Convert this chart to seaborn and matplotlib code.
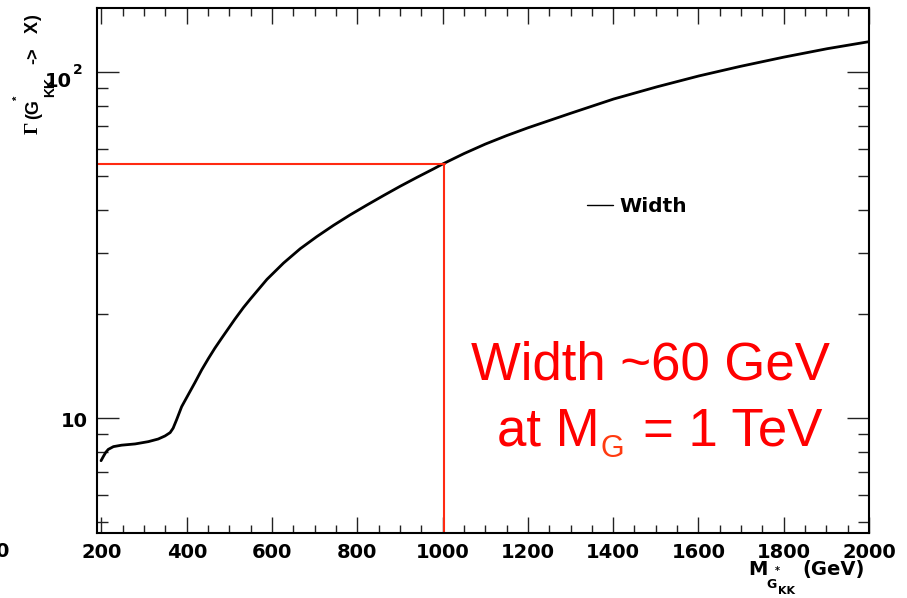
import numpy as np
import pandas as pd
import matplotlib
matplotlib.use("Agg")
import matplotlib.pyplot as plt
from matplotlib.ticker import FixedLocator, LogLocator, NullFormatter, MultipleLocator
import seaborn as sns

# KK graviton mass (GeV) and total decay width (GeV)
mass = [199, 204, 210, 216, 228, 247, 279, 310, 333, 349, 361, 368, 376,
        388, 404, 419, 435, 451, 466, 482, 498, 513, 533, 549, 588, 627, 666,
        705, 744, 783, 822, 861, 900, 940, 979, 1000, 1050, 1100, 1150, 1200,
        1300, 1401, 1503, 1601, 1698, 1800, 1902, 2000]
width = [7.54, 7.74, 7.97, 8.13, 8.28, 8.36, 8.43, 8.56, 8.71, 8.89, 9.09,
         9.36, 9.89, 10.80, 11.73, 12.67, 13.8, 14.9, 15.95, 17.05, 18.2,
         19.35, 20.9, 22.1, 25.2, 28.1, 30.9, 33.5, 36.1, 38.7, 41.3, 44.0,
         46.8, 49.7, 52.6, 54.3, 58.2, 62.0, 65.6, 69.1, 76.1, 83.7, 90.8,
         97.6, 104.0, 110.6, 117.0, 122.6]

x_ticks = [200, 400, 600, 800, 1000, 1200, 1400, 1600, 1800, 2000]
y_ticks = [10, 100]
marker_mass = 1000

df = pd.DataFrame({"mass": mass, "width": width})
marker_width = float(df.loc[df["mass"] == marker_mass, "width"].iloc[0])

W, H = 907, 598
sns.set_theme(style="ticks")
plt.rcParams["font.family"] = ["DejaVu Sans"]
plt.rcParams["font.weight"] = "bold"
for key in ("text.color", "axes.labelcolor", "xtick.color", "ytick.color",
            "axes.edgecolor"):
    plt.rcParams[key] = "black"

fig = plt.figure(figsize=(W / 100, H / 100), dpi=100)
ax = fig.add_axes([97 / W, 1 - 533 / H, 772 / W, 525 / H])

sns.lineplot(data=df, x="mass", y="width", ax=ax, color="black", lw=2.0,
             label="Width", estimator=None, sort=True)

ax.set_yscale("log")
ax.set_xlim(189.5, 2000)
ax.set_ylim(4.66, 153.4)

# red guide lines at M = 1 TeV
red = "#ff2a12"
ax.plot([189.5, marker_mass + 6], [marker_width, marker_width], color=red, lw=1.5)
ax.plot([marker_mass + 4, marker_mass + 4], [4.66, marker_width], color=red, lw=1.5)

# axes frame and ticks (inward on all four sides)
for s in ax.spines.values():
    s.set_linewidth(1.5)
    s.set_color("black")
ax.xaxis.set_major_locator(FixedLocator(x_ticks))
ax.xaxis.set_minor_locator(MultipleLocator(50))
ax.yaxis.set_major_locator(FixedLocator(y_ticks))
ax.yaxis.set_minor_locator(LogLocator(base=10, subs=np.arange(2, 10)))
ax.yaxis.set_major_formatter(NullFormatter())
ax.yaxis.set_minor_formatter(NullFormatter())
ax.set_xticklabels([str(v) for v in x_ticks], fontsize=14, fontweight="bold",
                   color="black")
ax.tick_params(which="both", direction="in", top=True, right=True,
               color="#222222", width=1.0)
ax.tick_params(axis="x", which="major", length=11.5, pad=7)
ax.tick_params(axis="x", which="minor", length=5.8)
ax.tick_params(axis="y", which="major", length=16)
ax.tick_params(axis="y", which="minor", length=8)
ax.set_xlabel("")
ax.set_ylabel("")

# y tick labels
ytr = ax.get_yaxis_transform()
ax.annotate("10", xy=(0, y_ticks[0]), xycoords=ytr, xytext=(-6.5, -2.2),
            textcoords="offset points", ha="right", va="center",
            fontsize=14, fontweight="bold", color="black")
ax.annotate("10", xy=(0, y_ticks[1]), xycoords=ytr, xytext=(-18, -6.8),
            textcoords="offset points", ha="right", va="center",
            fontsize=14, fontweight="bold", color="black")
ax.annotate("2", xy=(0, y_ticks[1]), xycoords=ytr, xytext=(-17.3, 1.5),
            textcoords="offset points", ha="left", va="center",
            fontsize=10, fontweight="bold", color="black")

# legend
leg = ax.legend(loc="center left", bbox_to_anchor=(577 / W, 1 - 207 / H),
                bbox_transform=fig.transFigure, frameon=False, borderpad=0,
                handlelength=1.3, handletextpad=0.3,
                prop={"family": "DejaVu Sans", "weight": "bold", "size": 14.5})
for ln in leg.get_lines():
    ln.set_linewidth(1.0)
for t in leg.get_texts():
    t.set_color("black")


def ftext(x, y, s, **kw):
    kw.setdefault("color", "black")
    fig.text(x / W, 1 - y / H, s, **kw)


# x axis title
ftext(748, 575, "M", fontsize=14, fontweight="bold", va="baseline")
ftext(766, 588, "G", fontsize=9, fontweight="bold", va="baseline")
ftext(775, 574, "*", fontsize=7, fontweight="bold", va="baseline")
ftext(778, 594, "KK", fontsize=8, fontweight="bold", va="baseline")
ftext(802, 575, "(GeV)", fontsize=14, fontweight="bold", va="baseline")

# y axis title (rotated pieces)
rot = dict(rotation=90, rotation_mode="anchor", ha="left", va="baseline")
ftext(38, 134, "Γ", fontsize=14, family="Liberation Serif", **rot)
ftext(38, 119, "(G", fontsize=13, family="Liberation Sans", fontweight="bold", **rot)
ftext(21, 100, "*", fontsize=8, family="Liberation Sans", fontweight="bold", **rot)
ftext(54, 97, "KK", fontsize=10, family="Liberation Sans", fontweight="bold", **rot)
ftext(38, 64, "->", fontsize=13, family="Liberation Sans", fontweight="bold", **rot)
ftext(38, 33, "X", fontsize=13, family="Liberation Sans", fontweight="bold", **rot)
ftext(38, 21, ")", fontsize=13, family="Liberation Sans", fontweight="bold", **rot)

# stray label at the left edge
ftext(8, 557, "0", fontsize=14, fontweight="bold", ha="right", va="baseline")

# annotation
ftext(471, 380, "Width ~60 GeV", fontsize=38, family="Liberation Sans",
      fontweight="normal", color="#ff0000", va="baseline")
ftext(497, 445, "at M", fontsize=38, family="Liberation Sans",
      fontweight="normal", color="#ff0000", va="baseline")
ftext(601, 457, "G", fontsize=22, family="Liberation Sans",
      fontweight="normal", color="#ff3a10", va="baseline")
ftext(643, 445, "= 1 TeV", fontsize=38, family="Liberation Sans",
      fontweight="normal", color="#ff0000", va="baseline")

fig.savefig("out.png", dpi=100)
